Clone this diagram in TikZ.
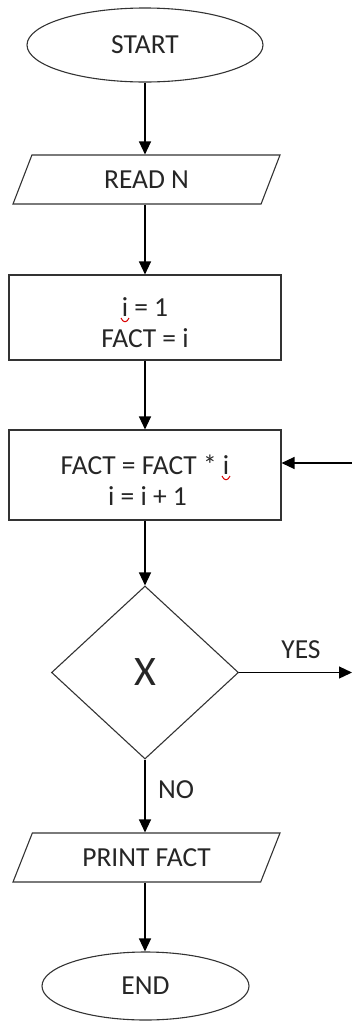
\documentclass[tikz,border=0pt]{standalone}
\usepackage{fontspec}
\setmainfont{Carlito}
\usetikzlibrary{shapes.geometric,arrows.meta}
\begin{document}
\begin{tikzpicture}[x=1pt,y=-1pt,
  every node/.style={font=\fontsize{27.5}{31}\selectfont, text=black!85},
  outline/.style={draw=black!80, line width=1.1pt},
  term/.style={outline, ellipse, inner sep=0pt},
  io/.style={outline, trapezium, trapezium left angle=43, trapezium right angle=137,
    trapezium stretches body, minimum width=267pt, minimum height=49pt, inner sep=0pt},
  proc/.style={outline, rectangle, minimum width=272pt, inner sep=0pt, align=center},
  dec/.style={outline, diamond, minimum width=187pt, minimum height=173pt, inner sep=0pt},
  arr/.style={-{Triangle[length=13pt,width=12pt]}, line width=1.3pt, draw=black},
  squig/.style={draw=red!85!black, line width=1pt}]
\useasboundingbox (0,0) rectangle (352,1021);

\node[term, minimum width=236pt, minimum height=74pt] (start) at (145,45) {START};
\node[io] (read) at (146.5,179.5) {READ N};
\node[proc, minimum height=85pt] (init) at (145,317.5) {\rule{0pt}{30pt}i = 1\\FACT = i};
\node[proc, minimum height=90pt] (loop) at (145,475) {\rule{0pt}{30pt}FACT = FACT * i\hspace{10pt}\\\hspace{5pt}i = i + 1};
\node[dec, font=\fontsize{42}{48}\selectfont] (test) at (145,672.5) {X};
\node[io] (print) at (146.5,857.5) {PRINT FACT};
\node[term, minimum width=207pt, minimum height=68pt] (end) at (145.5,986) {END};

\node (yes) at (301,650) {YES};
\node (no) at (176,790) {NO};
\coordinate (yesend) at (352,672.5);
\coordinate (loopin) at (352,463);

\draw[arr] (start.south) -- (read.north -| start.south);
\draw[arr] (read.south -| start.south) -- (init.north -| start.south);
\draw[arr] (init.south) -- (loop.north);
\draw[arr] (loop.south) -- (test.north);
\draw[arr] (test.east) -- (yesend);
\draw[arr] (loopin) -- (loopin -| loop.east);
\draw[arr] (test.south) -- (print.north -| test.south);
\draw[arr] (print.south -| test.south) -- (end.north -| test.south);

\draw[squig] (121,318) .. controls (123,323) and (127,323) .. (129,318);
\draw[squig] (222,476) .. controls (224,481) and (228,481) .. (230,476);
\end{tikzpicture}
\end{document}
